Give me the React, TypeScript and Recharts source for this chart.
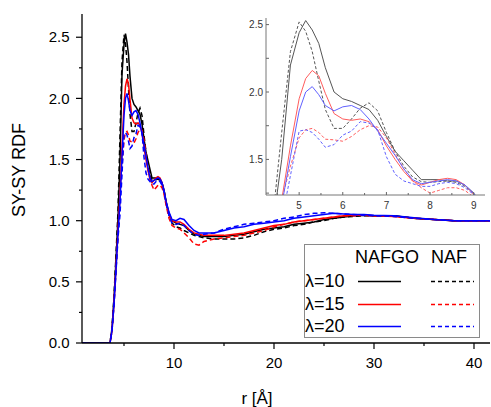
import React from "react";
import { Legend, Line, LineChart, XAxis, YAxis } from "recharts";

const FONT = '"Liberation Sans", Arial, Helvetica, sans-serif';

// r grid in Å, shared by all six curves
const rValues = [
  0.8, 3.6, 3.8, 4.0, 4.2, 4.4, 4.6, 4.8, 5.0, 5.15,
  5.3, 5.45, 5.6, 5.8, 6.0, 6.2, 6.4, 6.6, 6.8, 7.0,
  7.2, 7.4, 7.6, 7.8, 8.0, 8.2, 8.4, 8.6, 8.8, 9.0,
  9.2, 9.5, 9.8, 10.2, 10.6, 11.0, 11.5, 12.0, 12.5, 13,
  14, 15, 16, 17, 18, 19, 20, 21, 22, 23,
  24, 25, 26, 27, 28, 29, 30, 32, 34, 36,
  38, 40, 41.6,
];

const nafgo10 = [
  0, 0, 0.12, 0.36, 0.68, 1.02, 1.5, 2.2, 2.44, 2.53,
  2.46, 2.36, 2.18, 2.0, 1.95, 1.93, 1.9, 1.87, 1.79, 1.67,
  1.56, 1.49, 1.42, 1.35, 1.35, 1.35, 1.34, 1.34, 1.31, 1.25,
  1.16, 1.06, 1.0, 0.98, 0.97, 0.96, 0.92, 0.89, 0.88, 0.87,
  0.87, 0.87, 0.88, 0.89, 0.91, 0.93, 0.94, 0.95, 0.97, 0.98,
  0.99, 1.01, 1.02, 1.03, 1.04, 1.045, 1.04, 1.04, 1.02, 1.01,
  1.0, 1.0, 1.0,
];

const naf10 = [
  0, 0, 0.12, 0.38, 0.72, 1.08, 1.7, 2.3, 2.52, 2.45,
  2.3, 2.08, 1.87, 1.73, 1.73, 1.8, 1.88, 1.92, 1.86, 1.7,
  1.56, 1.45, 1.37, 1.335, 1.33, 1.335, 1.34, 1.33, 1.3, 1.25,
  1.15, 1.05, 0.98, 0.95, 0.94, 0.92, 0.9, 0.88, 0.87, 0.86,
  0.85, 0.85, 0.85, 0.86, 0.88, 0.91, 0.93, 0.94, 0.96, 0.97,
  0.99, 1.0, 1.02, 1.03, 1.035, 1.04, 1.04, 1.04, 1.02, 1.01,
  1.0, 1.0, 1.0,
];

const nafgo15 = [
  0, 0, 0.1, 0.33, 0.62, 0.92, 1.2, 1.6, 1.95, 2.1,
  2.16, 2.12, 1.99, 1.84, 1.8, 1.79, 1.8, 1.78, 1.72, 1.6,
  1.5, 1.41, 1.34, 1.31, 1.33, 1.35, 1.36, 1.35, 1.31, 1.24,
  1.15, 1.05, 1.0, 0.99, 0.99, 0.97, 0.93, 0.9, 0.89, 0.88,
  0.88, 0.88, 0.89, 0.9, 0.92, 0.94, 0.96, 0.97, 0.99, 1.0,
  1.01, 1.02, 1.03, 1.04, 1.045, 1.045, 1.04, 1.035, 1.02, 1.01,
  1.0, 1.0, 1.0,
];

const naf15 = [
  0, 0, 0.1, 0.32, 0.6, 0.88, 1.2, 1.45, 1.66, 1.72,
  1.73, 1.7, 1.65, 1.645, 1.635, 1.67, 1.72, 1.75, 1.74, 1.66,
  1.54, 1.43, 1.34, 1.29, 1.25, 1.27, 1.29, 1.29, 1.27, 1.22,
  1.13, 1.02, 0.96, 0.94, 0.93, 0.9, 0.86, 0.81, 0.8, 0.83,
  0.85, 0.86, 0.87, 0.88, 0.9, 0.92, 0.95, 0.97, 0.99, 1.0,
  1.01, 1.02, 1.03, 1.04, 1.04, 1.045, 1.04, 1.035, 1.02, 1.01,
  1.0, 1.0, 1.0,
];

const nafgo20 = [
  0, 0, 0.1, 0.32, 0.6, 0.9, 1.16, 1.52, 1.86, 2.0,
  2.04, 1.98, 1.9, 1.86, 1.89, 1.9, 1.87, 1.8, 1.71, 1.62,
  1.53, 1.43, 1.35, 1.32, 1.33, 1.34, 1.35, 1.34, 1.31, 1.25,
  1.16, 1.07, 1.01, 1.0, 1.02, 1.01, 0.96, 0.92, 0.9, 0.9,
  0.9, 0.92, 0.94, 0.95, 0.97, 0.98, 0.99, 1.0, 1.02, 1.03,
  1.04, 1.05, 1.06, 1.055, 1.05, 1.05, 1.045, 1.04, 1.025, 1.01,
  1.0, 1.0, 1.0,
];

const naf20 = [
  0, 0, 0.1, 0.31, 0.58, 0.86, 1.05, 1.38, 1.71, 1.72,
  1.7, 1.65, 1.59, 1.61, 1.68, 1.71, 1.78, 1.77, 1.72, 1.52,
  1.39, 1.34, 1.32, 1.3, 1.3, 1.32, 1.33, 1.32, 1.29, 1.24,
  1.15, 1.04, 0.98, 0.97, 0.98, 0.96, 0.92, 0.89, 0.88, 0.89,
  0.9, 0.93, 0.95, 0.97, 0.98, 0.99, 1.0, 1.02, 1.03, 1.05,
  1.06, 1.065, 1.06, 1.055, 1.05, 1.045, 1.04, 1.035, 1.02, 1.01,
  1.0, 1.0, 1.0,
];

const lambdas = ["λ=10", "λ=15", "λ=20"];
const mainXTicks = [5, 10, 15, 20, 25, 30, 35, 40];
const mainYTicks = [0, 0.25, 0.5, 0.75, 1, 1.25, 1.5, 1.75, 2, 2.25, 2.5];
const insetXTicks = [4.5, 5, 5.5, 6, 6.5, 7, 7.5, 8, 8.5, 9];
const insetYTicks = [1.25, 1.5, 1.75, 2, 2.25, 2.5];

const series = [
  { key: "nafgo10", values: nafgo10, color: "#000000", light: "#555555", dashed: false },
  { key: "naf10", values: naf10, color: "#000000", light: "#555555", dashed: true },
  { key: "nafgo15", values: nafgo15, color: "#ff0000", light: "#ff5c5c", dashed: false },
  { key: "naf15", values: naf15, color: "#ff0000", light: "#ff5c5c", dashed: true },
  { key: "nafgo20", values: nafgo20, color: "#0000ff", light: "#6161ff", dashed: false },
  { key: "naf20", values: naf20, color: "#0000ff", light: "#6161ff", dashed: true },
];

const rows = rValues.map((r, i) => {
  const row: Record<string, number> = { r };
  series.forEach((s) => (row[s.key] = s.values[i]));
  return row;
});
const insetRows = rows.filter((d) => d.r >= 4 && d.r <= 9.6);

// ---- main axis ticks ----
function MainBottomTick({ x, y, payload }: any) {
  const major = payload.value % 10 === 0;
  return (
    <g>
      <line x1={x} x2={x} y1={y} y2={y + (major ? 6 : 3)} stroke="#000" strokeWidth={1.2} />
      {major && (
        <text x={x} y={y + 20} dy="0.35em" textAnchor="middle" fontSize={15} fill="#000" fontFamily={FONT}>
          {payload.value}
        </text>
      )}
    </g>
  );
}

function MainTopTick({ x, y, payload }: any) {
  const major = payload.value % 10 === 0;
  return <line x1={x} x2={x} y1={y} y2={y + (major ? 6 : 3)} stroke="#000" strokeWidth={1.2} />;
}

function MainLeftTick({ x, y, payload }: any) {
  const major = Math.abs((payload.value * 2) % 1) < 1e-6;
  return (
    <g>
      <line x1={x} x2={x - (major ? 6 : 3)} y1={y} y2={y} stroke="#000" strokeWidth={1.2} />
      {major && (
        <text x={x - 12.5} y={y} dy="0.35em" textAnchor="end" fontSize={15} fill="#000" fontFamily={FONT}>
          {payload.value.toFixed(1)}
        </text>
      )}
    </g>
  );
}

function MainRightTick({ x, y, payload }: any) {
  const major = Math.abs((payload.value * 2) % 1) < 1e-6;
  return <line x1={x} x2={x - (major ? 5 : 3)} y1={y} y2={y} stroke="#000" strokeWidth={1.2} />;
}

// ---- inset ticks ----
function InsetBottomTick({ x, y, payload }: any) {
  const major = payload.value % 1 === 0;
  return (
    <g>
      <line x1={x} x2={x} y1={y} y2={y - (major ? 3 : 2)} stroke="#666" />
      {major && (
        <text x={x} y={y + 10} dy="0.35em" textAnchor="middle" fontSize={10} fill="#333" fontFamily={FONT}>
          {payload.value}
        </text>
      )}
    </g>
  );
}

function InsetTopTick({ x, y }: any) {
  return <line x1={x} x2={x} y1={y} y2={y + 2.5} stroke="#666" />;
}

function InsetLeftTick({ x, y, payload }: any) {
  const major = Math.abs((payload.value * 2) % 1) < 1e-6;
  return (
    <g>
      <line x1={x} x2={x + 3} y1={y} y2={y} stroke="#666" />
      {major && (
        <text x={x - 3} y={y} dy="0.35em" textAnchor="end" fontSize={10} fill="#333" fontFamily={FONT}>
          {payload.value.toFixed(1)}
        </text>
      )}
    </g>
  );
}

function InsetRightTick({ x, y }: any) {
  return <line x1={x} x2={x - 3} y1={y} y2={y} stroke="#666" />;
}

function LegendBox() {
  const cell = { position: "absolute" as const, fontSize: 18, lineHeight: "20px", color: "#000" };
  const rowsY = [26, 48.7, 71];
  return (
    <div
      style={{
        position: "relative",
        width: 176,
        height: 94,
        boxSizing: "border-box",
        border: "1px solid #8a8a8a",
        background: "#fff",
        fontFamily: FONT,
      }}
    >
      <div style={{ ...cell, left: 50, top: 2 }}>NAFGO</div>
      <div style={{ ...cell, left: 126, top: 2 }}>NAF</div>
      {lambdas.map((lab, i) => {
        const solid = series[i * 2];
        const dash = series[i * 2 + 1];
        return (
          <React.Fragment key={lab}>
            <div style={{ ...cell, left: 0, top: rowsY[i] }}>{lab}</div>
            <svg style={{ position: "absolute", left: 0, top: rowsY[i] + 9 }} width={174} height={3}>
              <line x1={53} x2={96} y1={1.5} y2={1.5} stroke={solid.color} strokeWidth={1.3} />
              <line x1={126} x2={169} y1={1.5} y2={1.5} stroke={dash.color} strokeWidth={1.3} strokeDasharray="4 3" />
            </svg>
          </React.Fragment>
        );
      })}
    </div>
  );
}

function YTitle({ viewBox }: any) {
  const vb = viewBox || { x: 0, y: 14, width: 82, height: 329 };
  const cx = vb.x + 19;
  const cy = vb.y + vb.height / 2 - 8.5;
  return (
    <text x={cx} y={cy} dy="0.35em" transform={`rotate(-90 ${cx} ${cy})`} textAnchor="middle" fontSize={18} fill="#000" fontFamily={FONT}>
      SY-SY RDF
    </text>
  );
}

function XTitle({ viewBox }: any) {
  const vb = viewBox || { x: 82, y: 343, width: 408, height: 64 };
  return (
    <text x={vb.x + 175} y={vb.y + 55} dy="0.35em" textAnchor="middle" fontSize={17} fill="#000" fontFamily={FONT}>
      r [Å]
    </text>
  );
}

export default function App() {
  const axisLine = { stroke: "#000", strokeWidth: 1.3 };
  const insetLine = { stroke: "#777", strokeWidth: 1 };
  return (
    <div style={{ position: "absolute", left: 0, top: 0, width: 491, height: 407, background: "#fff", fontFamily: FONT }}>
      <LineChart width={491} height={407} data={rows} margin={{ top: 14, right: 1, bottom: 0, left: 0 }}>
        <XAxis
          xAxisId="b"
          dataKey="r"
          type="number"
          domain={[0.8, 41.6]}
          allowDataOverflow
          ticks={mainXTicks}
          interval={0}
          height={64}
          tickSize={0}
          tickMargin={0}
          tickLine={false}
          axisLine={axisLine}
          tick={(p: any) => <MainBottomTick {...p} />}
          label={(p: any) => <XTitle {...p} />}
        />
        <XAxis
          xAxisId="t"
          orientation="top"
          dataKey="r"
          type="number"
          domain={[0.8, 41.6]}
          allowDataOverflow
          ticks={mainXTicks}
          interval={0}
          height={0}
          tickSize={0}
          tickMargin={0}
          tickLine={false}
          axisLine={axisLine}
          tick={(p: any) => <MainTopTick {...p} />}
        />
        <YAxis
          yAxisId="l"
          type="number"
          domain={[0, 2.69]}
          allowDataOverflow
          ticks={mainYTicks}
          interval={0}
          width={82}
          tickSize={0}
          tickMargin={0}
          tickLine={false}
          axisLine={axisLine}
          tick={(p: any) => <MainLeftTick {...p} />}
          label={(p: any) => <YTitle {...p} />}
        />
        <YAxis
          yAxisId="rt"
          orientation="right"
          type="number"
          domain={[0, 2.69]}
          allowDataOverflow
          ticks={mainYTicks}
          interval={0}
          width={0}
          tickSize={0}
          tickMargin={0}
          tickLine={false}
          axisLine={axisLine}
          tick={(p: any) => <MainRightTick {...p} />}
        />
        {series.map((s) => (
          <Line
            key={s.key}
            xAxisId="b"
            yAxisId="l"
            type="linear"
            dataKey={s.key}
            stroke={s.color}
            strokeWidth={1.5}
            strokeDasharray={s.dashed ? "5 3" : undefined}
            dot={false}
            activeDot={false}
            isAnimationActive={false}
          />
        ))}
        <Legend
          layout="vertical"
          align="center"
          verticalAlign="middle"
          wrapperStyle={{ left: 304, top: 244, width: 176, height: 94 }}
          content={() => <LegendBox />}
        />
      </LineChart>

      <div style={{ position: "absolute", left: 236, top: 0 }}>
        <LineChart width={255} height={215} data={insetRows} margin={{ top: 18, right: 6, bottom: 0, left: 0 }}>
          <XAxis
            xAxisId="b"
            dataKey="r"
            type="number"
            domain={[4.24, 9.26]}
            allowDataOverflow
            ticks={insetXTicks}
            interval={0}
            height={20}
            tickSize={0}
            tickMargin={0}
            tickLine={false}
            axisLine={insetLine}
            tick={(p: any) => <InsetBottomTick {...p} />}
          />
          <XAxis
            xAxisId="t"
            orientation="top"
            dataKey="r"
            type="number"
            domain={[4.24, 9.26]}
            allowDataOverflow
            ticks={insetXTicks}
            interval={0}
            height={0}
            tickSize={0}
            tickMargin={0}
            tickLine={false}
            axisLine={insetLine}
            tick={(p: any) => <InsetTopTick {...p} />}
          />
          <YAxis
            yAxisId="l"
            type="number"
            domain={[1.236, 2.549]}
            allowDataOverflow
            ticks={insetYTicks}
            interval={0}
            width={30}
            tickSize={0}
            tickMargin={0}
            tickLine={false}
            axisLine={insetLine}
            tick={(p: any) => <InsetLeftTick {...p} />}
          />
          <YAxis
            yAxisId="rt"
            orientation="right"
            type="number"
            domain={[1.236, 2.549]}
            allowDataOverflow
            ticks={insetYTicks}
            interval={0}
            width={0}
            tickSize={0}
            tickMargin={0}
            tickLine={false}
            axisLine={insetLine}
            tick={(p: any) => <InsetRightTick {...p} />}
          />
          {series.map((s) => (
            <Line
              key={s.key}
              xAxisId="b"
              yAxisId="l"
              type="linear"
              dataKey={s.key}
              stroke={s.light}
              strokeWidth={1}
              strokeDasharray={s.dashed ? "3 2" : undefined}
              dot={false}
              activeDot={false}
              isAnimationActive={false}
            />
          ))}
        </LineChart>
      </div>
    </div>
  );
}
